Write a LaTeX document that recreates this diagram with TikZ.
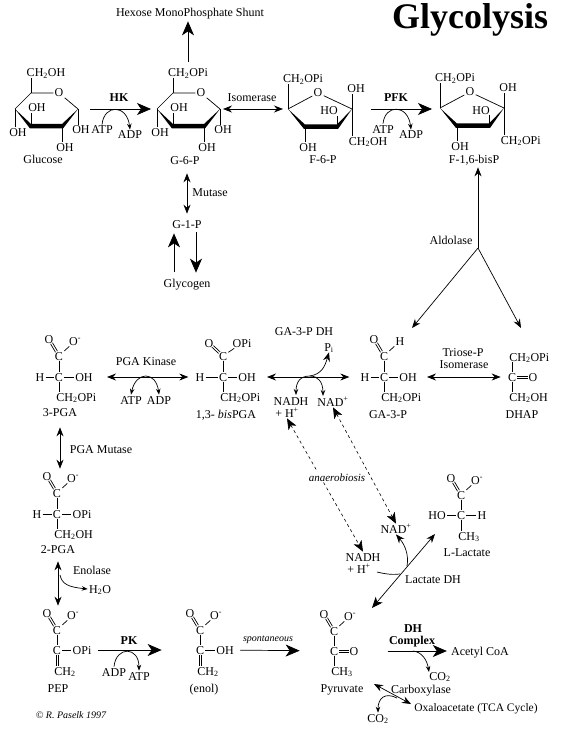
\documentclass[tikz,border=0pt]{standalone}
\usepackage{fontspec}
\setmainfont{Liberation Serif}
\usepackage{tikz}
\usetikzlibrary{arrows.meta}
\usetikzlibrary{calc}

\newcommand{\chemf}{\fontsize{12}{13}\selectfont}
\newcommand{\chtwo}{CH\textsubscript{2}}
\newcommand{\cotwo}{CO\textsubscript{2}}

\tikzset{
    every node/.style={font=\chemf,inner sep=1pt,text height=8pt,text depth=0pt},
    bond/.style={line width=0.7pt},
    bigarr/.style={-{Stealth[length=14pt,width=12pt,inset=4pt]}},
    medarr/.style={-{Stealth[length=9pt,width=7pt,inset=3pt]}},
    medboth/.style={{Stealth[length=9pt,width=7pt,inset=3pt]}-{Stealth[length=9pt,width=7pt,inset=3pt]}},
    smallarr/.style={-{Stealth[length=6pt,width=4.5pt,inset=2pt]}},
    smallboth/.style={{Stealth[length=6pt,width=4.5pt,inset=2pt]}-{Stealth[length=6pt,width=4.5pt,inset=2pt]}},
    anaer/.style={dash pattern=on 3pt off 3pt,line width=0.6pt},
    anaerboth/.style={{Stealth[length=11pt,width=9pt,inset=3pt]}-{Stealth[length=11pt,width=9pt,inset=3pt]}},
}

% two thin lines side by side
\newcommand{\dblbond}[2]{
    \draw[bond,shorten <=5pt,shorten >=5pt] ($(#1)!1.1pt!90:(#2)$) -- ($(#2)!1.1pt!-90:(#1)$);
    \draw[bond,shorten <=5pt,shorten >=5pt] ($(#1)!1.1pt!-90:(#2)$) -- ($(#2)!1.1pt!90:(#1)$);
}

% ring drawn at the glucose position
\newcommand{\pyranring}[1]{
    \coordinate (c5) at (31,93);
    \coordinate (c1) at (78,109);
    \coordinate (c2) at (62,126);
    \coordinate (c3) at (31,126);
    \coordinate (c4) at (15,109);
    \node (ox) at (59,93) {O};
    \node (top) at (46,73) {\chtwo #1};
    \node (oh3) at (37,108) {OH};
    \node (oh4) at (18,132) {OH};
    \node (oh1) at (81,130) {OH};
    \node (oh2) at (65,147) {OH};
    \draw[bond] (c5) -- (c5|-top.south);
    \draw[bond] (c4) -- (c5) -- (ox) -- (c1);
    \fill (c4) -- (31,124) -- (62,124) -- (c1) -- (63,128.5) -- (30,128.5) -- cycle;
    \draw[bond] (c3) -- (c3|-oh3.south);
    \draw[bond] (c4) -- (c4|-oh4.north);
    \draw[bond] (c1) -- (c1|-oh1.north);
    \draw[bond] (c2) -- (c2|-oh2.north);
}

% ring drawn at the F-6-P position
\newcommand{\furanring}[1]{
    \coordinate (c5) at (288,109);
    \coordinate (c2) at (352,109);
    \coordinate (c3) at (337,127);
    \coordinate (c4) at (305,127);
    \node (ox) at (318,93) {O};
    \node[anchor=center] (top) at (303,79) {\chtwo OPi};
    \node (oh2) at (356,89) {OH};
    \node (ho) at (329,111) {HO};
    \node (oh4) at (308,147) {OH};
    \node[anchor=west] (tail) at (347.5,141) {\chtwo #1};
    \draw[bond] (c5) -- (c5|-top.south);
    \draw[bond] (c5) -- (ox) -- (c2);
    \fill (c5) -- (305,124.5) -- (337,124.5) -- (c2) -- (338,129) -- (304,129) -- cycle;
    \draw[bond] (c2|-oh2.south) -- (c2|-tail.north);
    \draw[bond] (c3) -- (c3|-ho.south);
    \draw[bond] (c4) -- (c4|-oh4.north);
}

% carboxyl top of a three carbon chain, origin on the upper C
\newcommand{\acidhead}[1]{
    \node (c1) at (0,0) {C};
    \node (o1) at (-10,-17) {O};
    \node (o2) at (16,-15) {#1};
    \dblbond{c1}{o1}
    \draw[bond] (c1) -- (o2);
}

\begin{document}
\begin{tikzpicture}[x=1pt,y=-1pt,line width=0.7pt]
    \useasboundingbox (0,0) rectangle (561,733);

    \node[font=\fontsize{36}{36}\selectfont\bfseries,text height=25pt,text depth=7pt] (title) at (470,20) {Glycolysis};

    % upper row
    \begin{scope}[name prefix=glc-]
        \pyranring{OH}
    \end{scope}
    \begin{scope}[shift={(142,0)},name prefix=g6p-]
        \pyranring{OPi}
    \end{scope}
    \begin{scope}[name prefix=f6p-]
        \furanring{OH}
    \end{scope}
    \begin{scope}[shift={(152,-1)},name prefix=f16-]
        \furanring{OPi}
    \end{scope}

    \node (glcl) at (43,159) {Glucose};
    \node (g6pl) at (185,160) {G-6-P};
    \node (f6pl) at (323,159) {F-6-P};
    \node (f16l) at (474,159) {F-1,6-bisP};
    \node (hmp) at (190,13) {Hexose MonoPhosphate Shunt};
    \draw[bigarr,shorten <=6pt,shorten >=3pt] (g6p-top.north) -- (g6p-top.north|-hmp.south);

    \node[font=\chemf\bfseries] (hk) at (119,98) {HK};
    \node (atpa) at (102,130) {ATP};
    \node (adpa) at (130,135) {ADP};
    \draw[bigarr,shorten <=12pt,shorten >=6pt] (glc-c1) -- (g6p-c4);
    \draw[smallarr] (atpa.north) .. controls (104,104) and (127,104) .. (adpa.north);

    \node (iso) at (252,98) {Isomerase};
    \draw[medboth,shorten <=3pt,shorten >=5pt] (g6p-c1) -- (f6p-c5);

    \node[font=\chemf\bfseries] (pfk) at (396,98) {PFK};
    \node (atpb) at (383,129) {ATP};
    \node (adpb) at (411,135) {ADP};
    \draw[bigarr,shorten <=19pt,shorten >=8pt] (f6p-c2) -- (f16-c5|-f6p-c2);
    \draw[smallarr] (atpb.north) .. controls (385,104) and (408,104) .. (adpb.north);

    % glycogen branch
    \node (g1p) at (187,224) {G-1-P};
    \node (mut) at (210,192) {Mutase};
    \node (gly) at (187,283) {Glycogen};
    \draw[medboth,shorten <=5pt,shorten >=8pt] (g1p.north) -- (g1p|-g6pl.south);
    \draw[bigarr,shorten <=6pt,shorten >=4pt] ([xshift=-13pt]gly.north) -- ([xshift=-13pt]g1p.south);
    \draw[bigarr,shorten <=3pt,shorten >=5pt] ([xshift=9pt]g1p.south) -- ([xshift=9pt]gly.north);

    % aldolase
    \coordinate (ald) at (478,248);
    \coordinate (aldl) at (412,328);
    \coordinate (aldr) at (521,328);
    \node (aldt) at (451,240) {Aldolase};
    \draw[medarr,shorten >=3pt] (ald) -- (ald|-f16l.south);
    \draw[medarr] (ald) -- (aldl);
    \draw[medarr] (ald) -- (aldr);

    % three carbon row
    \begin{scope}[shift={(59,356)},name prefix=pga3-]
        \acidhead{O\textsuperscript{-}}
        \node (c2) at (0,21) {C};
        \node (h) at (-19,21) {H};
        \node (oh) at (25,21) {OH};
        \node[anchor=west] (ch) at (-4,41) {\chtwo OPi};
        \draw[bond] (c1) -- (c2);
        \draw[bond] (h) -- (c2) -- (oh);
        \draw[bond] (c2) -- (c2|-ch.north);
    \end{scope}
    \node (pga3l) at (60,412) {3-PGA};

    \begin{scope}[shift={(223,356)},name prefix=bis-]
        \node (c1) at (0,0) {C};
        \node (o1) at (-14,-13) {O};
        \node (o2) at (19,-13) {OPi};
        \dblbond{c1}{o1}
        \draw[bond] (c1) -- (o2);
        \node (c2) at (0,21) {C};
        \node (h) at (-23,21) {H};
        \node (oh) at (24,21) {OH};
        \node[anchor=west] (ch) at (-4,41) {\chtwo OPi};
        \draw[bond] (c1) -- (c2);
        \draw[bond] (h) -- (c2) -- (oh);
        \draw[bond] (c2) -- (c2|-ch.north);
    \end{scope}
    \node (bisl) at (226,414) {1,3-~\textit{bis}PGA};

    \begin{scope}[shift={(384,356)},name prefix=ga3-]
        \acidhead{H}
        \node (c2) at (0,21) {C};
        \node (h) at (-19,21) {H};
        \node (oh) at (24,21) {OH};
        \node[anchor=west] (ch) at (-4,41) {\chtwo OPi};
        \draw[bond] (c1) -- (c2);
        \draw[bond] (h) -- (c2) -- (oh);
        \draw[bond] (c2) -- (c2|-ch.north);
    \end{scope}
    \node (ga3l) at (388,414) {GA-3-P};

    \node[anchor=west] (dh1) at (508,357) {\chtwo OPi};
    \node (dc) at (512,377) {C};
    \node (dox) at (533,377) {O};
    \node[anchor=west] (dh2) at (508,397) {\chtwo OH};
    \node (dhapl) at (522,414) {DHAP};
    \draw[bond] (dc) -- (dc|-dh1.south);
    \draw[bond] (dc) -- (dc|-dh2.north);
    \dblbond{dc}{dox}

    \node (pgak) at (146,361) {PGA Kinase};
    \node (atpc) at (131,400) {ATP};
    \node (adpc) at (159,400) {ADP};
    \draw[medboth,shorten <=13pt,shorten >=6pt] (pga3-oh) -- (bis-h);
    \draw[smallboth] (atpc.north) .. controls (136,371) and (156,371) .. (adpc.north);

    \node (gadh) at (304,331) {GA-3-P DH};
    \node (pi) at (329,347) {P\textsubscript{i}};
    \node (nadha) at (291,401) {NADH};
    \node (nadhb) at (287,413) {+ H\textsuperscript{+}};
    \node (nada) at (333,402) {NAD\textsuperscript{+}};
    \coordinate (gam) at (310,376);
    \coordinate (gab) at (296,395);
    \coordinate (gac) at (323,396);
    \draw[medboth,shorten <=10pt,shorten >=10pt] (bis-oh) -- (ga3-h);
    \draw[medarr] (gam) .. controls (322,374) and (325,366) .. (pi.south);
    \draw[smallarr] (gam) .. controls (300,376) and (296,382) .. (gab);
    \draw[smallarr] (gam) .. controls (318,376) and (323,382) .. (gac);

    \node (tri1) at (463,352) {Triose-P};
    \node (tri2) at (464,364) {Isomerase};
    \draw[medboth,shorten <=9pt,shorten >=6pt] (ga3-oh) -- (dc);

    % anaerobic side
    \node (nadhc) at (363,557) {NADH};
    \node (nadhd) at (359,569) {+ H\textsuperscript{+}};
    \node (nadb) at (396,529) {NAD\textsuperscript{+}};
    \draw[anaer,anaerboth] (nadhb.south) -- (nadhc.north);
    \draw[anaer,anaerboth] (nada.south) -- (nadb.north);
    \node[font=\fontsize{11}{12}\selectfont\itshape,fill=white] (anb) at (337,477) {anaerobiosis};

    \begin{scope}[shift={(461,495)},name prefix=lac-]
        \acidhead{O\textsuperscript{-}}
        \node (c2) at (0,20) {C};
        \node (ho) at (-24,20) {HO};
        \node (h) at (21,20) {H};
        \node[anchor=west] (ch) at (-4,41) {CH\textsubscript{3}};
        \draw[bond] (c1) -- (c2);
        \draw[bond] (ho) -- (c2) -- (h);
        \draw[bond] (c2) -- (c2|-ch.north);
    \end{scope}
    \node (lacl) at (467,552) {L-Lactate};

    \node (ldh) at (433,579) {Lactate DH};
    \coordinate (ldh1) at (435,534);
    \coordinate (ldh2) at (372,608);
    \coordinate (ldhs) at (377,572);
    \coordinate (ldhn) at (400,574);
    \coordinate (ldht) at (407,566);
    \draw[{Stealth[length=9pt,width=7pt,inset=3pt]}-{Stealth[length=11pt,width=9pt,inset=3pt]}] (ldh1) -- (ldh2);
    \draw[bond] (ldhs) .. controls (385,574) and (393,575) .. (ldhn);
    \draw[medarr] (ldht) .. controls (409,555) and (405,545) .. (nadb.south);

    % left column
    \begin{scope}[shift={(57,493)},name prefix=pga2-]
        \acidhead{O\textsuperscript{-}}
        \node (c2) at (0,21) {C};
        \node (h) at (-20,21) {H};
        \node (opi) at (25,21) {OPi};
        \node[anchor=west] (ch) at (-4,41) {\chtwo OH};
        \draw[bond] (c1) -- (c2);
        \draw[bond] (h) -- (c2) -- (opi);
        \draw[bond] (c2) -- (c2|-ch.north);
    \end{scope}
    \node (pga2l) at (58,549) {2-PGA};
    \node (pmut) at (101,449) {PGA Mutase};
    \draw[medboth,shorten <=10pt,shorten >=2pt] (pga3l.south) -- (pga3l.south|-pga2-o1.north);

    \begin{scope}[shift={(57,630)},name prefix=pep-]
        \acidhead{O\textsuperscript{-}}
        \node (c2) at (0,20) {C};
        \node (opi) at (25,20) {OPi};
        \node[anchor=west] (ch) at (-4,41) {\chtwo};
        \draw[bond] (c1) -- (c2);
        \draw[bond] (c2) -- (opi);
        \dblbond{c2}{c2|-ch}
    \end{scope}
    \node (pepl) at (58,688) {PEP};

    \node (enot) at (92,570) {Enolase};
    \node (water) at (100,589) {H\textsubscript{2}O};
    \coordinate (enob) at (60,575);
    \draw[medboth,shorten <=7pt,shorten >=2pt] (pga2l.south) -- (pga2l.south|-pep-o1.north);
    \draw[smallarr] (enob) .. controls (62,584) and (68,587) .. (water.west);

    \begin{scope}[shift={(200,630)},name prefix=enol-]
        \acidhead{O\textsuperscript{-}}
        \node (c2) at (0,20) {C};
        \node (oh) at (25,20) {OH};
        \node[anchor=west] (ch) at (-4,41) {\chtwo};
        \draw[bond] (c1) -- (c2);
        \draw[bond] (c2) -- (oh);
        \dblbond{c2}{c2|-ch}
    \end{scope}
    \node (enoll) at (204,688) {(enol)};

    \node[font=\chemf\bfseries] (pk) at (129,640) {PK};
    \node (adpd) at (114,672) {ADP};
    \node (atpd) at (139,676) {ATP};
    \draw[bigarr,shorten <=5pt,shorten >=33pt] (pep-opi) -- (enol-c2);
    \draw[smallarr] (adpd.north) .. controls (116,646) and (139,646) .. (atpd.north);

    \begin{scope}[shift={(334,631)},name prefix=pyr-]
        \acidhead{O\textsuperscript{-}}
        \node (c2) at (0,20) {C};
        \node (o3) at (20,20) {O};
        \node[anchor=west] (ch) at (-4,40) {CH\textsubscript{3}};
        \draw[bond] (c1) -- (c2);
        \dblbond{c2}{o3}
        \draw[bond] (c2) -- (c2|-ch.north);
    \end{scope}
    \node (pyrl) at (342,688) {Pyruvate};

    \node[font=\itshape] (spon) at (268,637) {spontaneous};
    \draw[bigarr,shorten <=5pt,shorten >=29pt] (enol-oh) -- (pyr-c2);

    % pyruvate fates
    \node[font=\chemf\bfseries] (dhc1) at (413,628) {DH};
    \node[font=\chemf\bfseries] (dhc2) at (412,640) {Complex};
    \node (acoa) at (480,651) {Acetyl CoA};
    \node (co2a) at (440,676) {\cotwo};
    \coordinate (dhm) at (413,651);
    \coordinate (dhe) at (429,672);
    \draw[bigarr,shorten <=28pt,shorten >=3pt] (pyr-o3) -- (acoa);
    \draw[smallarr] (dhm) .. controls (422,652) and (427,660) .. (dhe);

    \node (carb) at (421,689) {Carboxylase};
    \node[font=\fontsize{11.5}{12}\selectfont] (oxal) at (476,707) {Oxaloacetate (TCA Cycle)};
    \node (co2b) at (378,718) {\cotwo};
    \coordinate (carb1) at (374,684);
    \coordinate (carb2) at (411,704);
    \coordinate (carbm) at (397,698);
    \draw[medboth] (carb1) -- (carb2);
    \draw[smallarr] (carbm) .. controls (385,692) and (378,698) .. (co2b.north);

    \node[font=\fontsize{10}{11}\selectfont\itshape] (copy) at (71,714) {© R. Paselk 1997};
\end{tikzpicture}
\end{document}
